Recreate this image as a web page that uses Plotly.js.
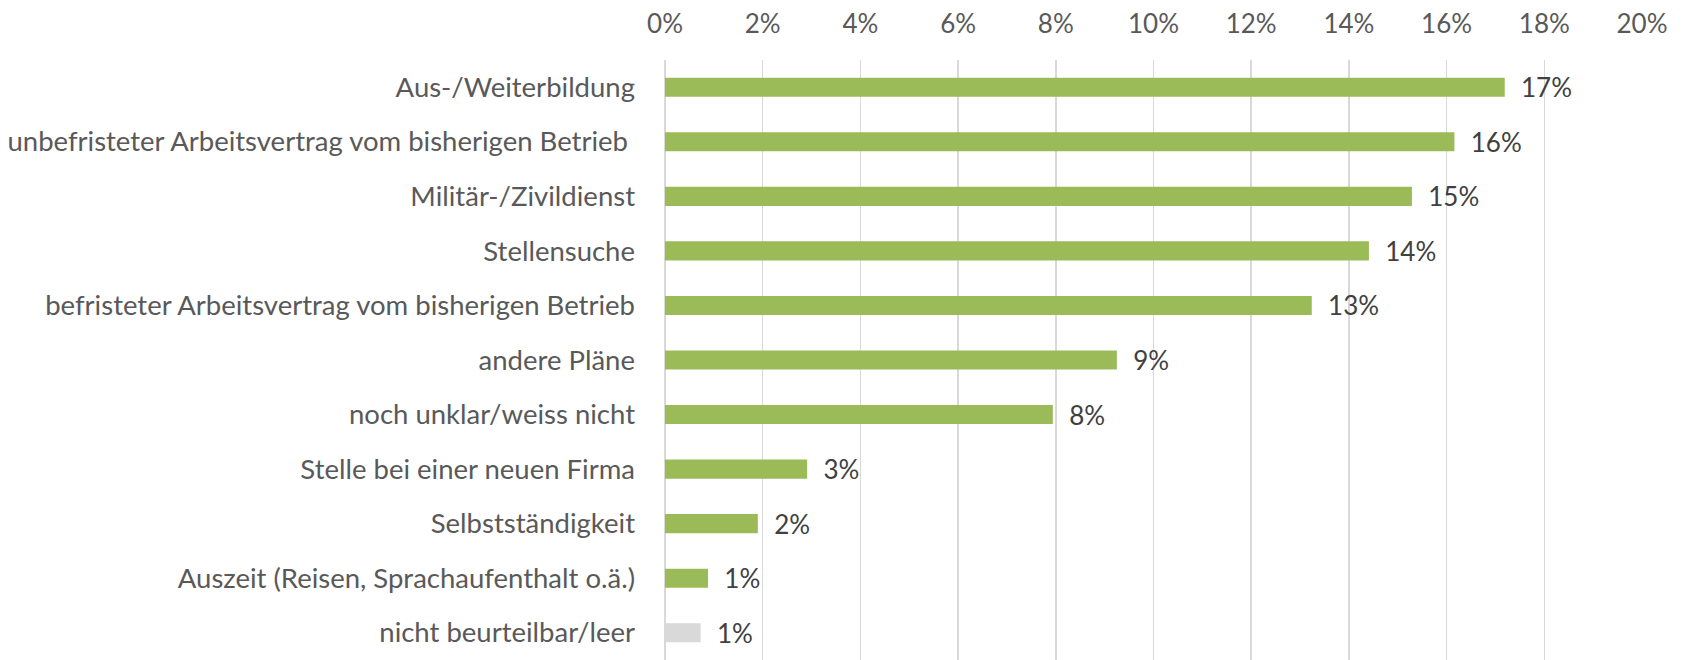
<!DOCTYPE html>
<html><head><meta charset="utf-8">
<script src="https://cdn.plot.ly/plotly-3.0.1.min.js"></script>
<style>body{margin:0;background:#fff}#chart{width:1681px;height:660px}</style>
</head><body><div id="chart"></div>
<script>
const categories = [
  "Aus-/Weiterbildung",
  "unbefristeter Arbeitsvertrag vom bisherigen Betrieb\u00a0",
  "Militär-/Zivildienst",
  "Stellensuche",
  "befristeter Arbeitsvertrag vom bisherigen Betrieb",
  "andere Pläne",
  "noch unklar/weiss nicht",
  "Stelle bei einer neuen Firma",
  "Selbstständigkeit",
  "Auszeit (Reisen, Sprachaufenthalt o.ä.)",
  "nicht beurteilbar/leer"
];
const values = [0.1719, 0.1616, 0.1529, 0.1441, 0.1324, 0.0925, 0.0794, 0.0291, 0.0190, 0.0088, 0.0073];
const barColors = ["#9bbb59","#9bbb59","#9bbb59","#9bbb59","#9bbb59","#9bbb59","#9bbb59","#9bbb59","#9bbb59","#9bbb59","#d9d9d9"];
const tickValues = [0,0.02,0.04,0.06,0.08,0.10,0.12,0.14,0.16,0.18,0.20];

const font = "Lato, Open Sans, sans-serif";
const fs = 26;
const trace = {
  type: "bar", orientation: "h",
  x: values, y: categories,
  marker: {color: barColors},
  texttemplate: "\u00a0\u00a0%{x:.0%}",
  textposition: "outside",
  constraintext: "none",
  cliponaxis: false,
  textfont: {family: font, size: fs, color: "#404040"},
  hoverinfo: "skip"
};
const layout = {
  width: 1681, height: 660,
  margin: {l: 665, r: 39, t: 60, b: 0},
  paper_bgcolor: "#fff", plot_bgcolor: "#fff",
  showlegend: false,
  bargap: 0.65,
  font: {family: font, color: "#595959", size: fs},
  xaxis: {
    side: "top", range: [0, 0.2], tickvals: tickValues, tickformat: ".0%",
    showgrid: true, gridcolor: "#d9d9d9", gridwidth: 1.5,
    zeroline: true, zerolinecolor: "#d9d9d9", zerolinewidth: 1.5,
    showline: false, ticks: "", ticklabelstandoff: 21,
    tickfont: {family: font, size: fs, color: "#595959"}
  },
  yaxis: {
    autorange: "reversed", showgrid: false, zeroline: false, showline: false,
    ticks: "", ticklabelstandoff: 29,
    tickfont: {family: font, size: 27.5, color: "#595959"}
  }
};
Plotly.newPlot("chart", [trace], layout, {displayModeBar: false, staticPlot: true});
</script></body></html>
